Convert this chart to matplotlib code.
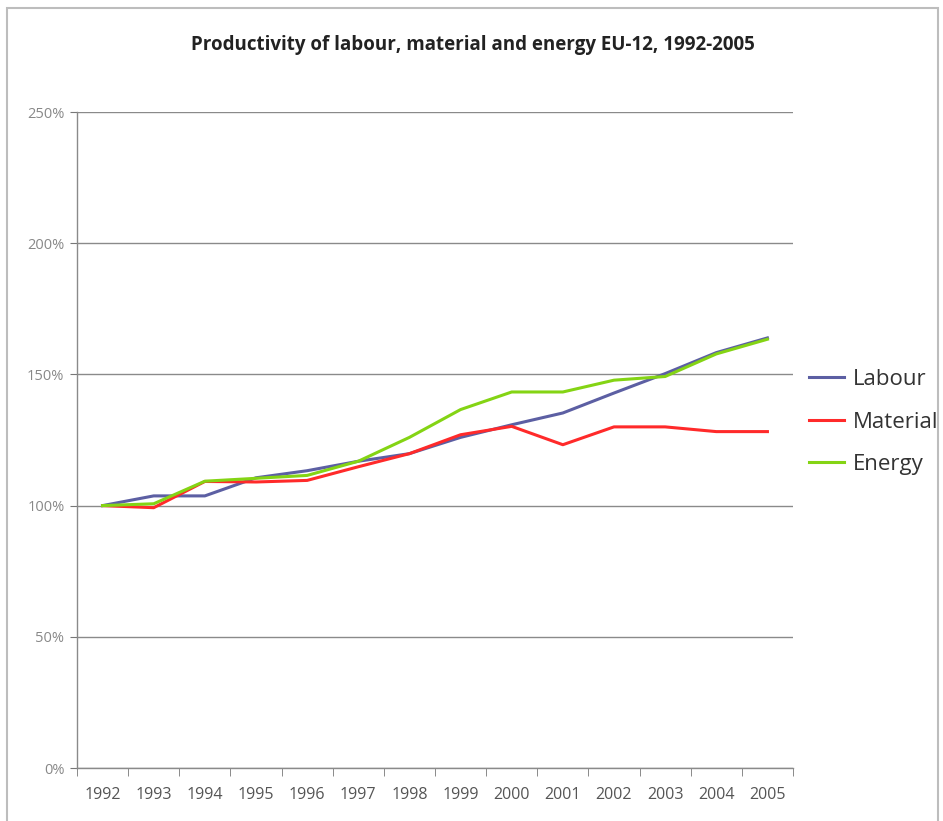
import matplotlib
matplotlib.use("Agg")
import matplotlib.pyplot as plt
from matplotlib.patches import Rectangle
from matplotlib.ticker import FuncFormatter

years = ["1992", "1993", "1994", "1995", "1996", "1997", "1998",
         "1999", "2000", "2001", "2002", "2003", "2004", "2005"]
labour = [100, 103.7, 103.7, 110.6, 113.3, 116.9, 119.8, 126.0, 130.8, 135.3, 142.9, 150.3, 158.3, 163.9]
material = [100, 99.2, 109.2, 109.0, 109.6, 114.8, 119.8, 127.0, 130.2, 123.2, 130.0, 130.0, 128.2, 128.2]
energy = [100, 100.7, 109.3, 110.4, 111.5, 116.9, 126.0, 136.6, 143.3, 143.3, 147.8, 149.2, 157.8, 163.4]
series_names = ["Labour", "Material", "Energy"]
y_ticks = [0, 50, 100, 150, 200, 250]

colors = ["#5c5fa3", "#ff2a2a", "#84d414"]

W, H = 943, 821
fig = plt.figure(figsize=(W / 100, H / 100), dpi=100)
fig.patch.set_facecolor("white")

# outer frame
fig.add_artist(Rectangle((7 / W, -0.05), (938 - 7) / W, 1.05 - 8 / H,
                         transform=fig.transFigure, fill=False,
                         edgecolor="#bdbdbd", linewidth=1.5))

ax = fig.add_axes([77 / W, (H - 768) / H, (793 - 77) / W, (768 - 112) / H])
x = list(range(len(years)))
for vals, name, c in zip([labour, material, energy], series_names, colors):
    ax.plot(x, vals, color=c, linewidth=2.2, label=name)

ax.set_xlim(-0.5, len(years) - 0.5)
ax.set_ylim(0, 250)
ax.set_yticks(y_ticks)
ax.yaxis.set_major_formatter(FuncFormatter(lambda v, p: f"{int(v)}%"))
ax.grid(axis="y", color="#8a8a8a", linewidth=1.0)
ax.set_axisbelow(True)

ax.set_xticks(x)
ax.set_xticklabels(years)
ax.set_xticks([i - 0.5 for i in range(len(years) + 1)], minor=True)
ax.tick_params(axis="x", which="major", length=0, pad=14, labelsize=11.5, labelcolor="#555555")
ax.tick_params(axis="x", which="minor", length=6, color="#777777", direction="out")
ax.tick_params(axis="y", length=5, color="#777777", labelsize=10.5, labelcolor="#888888", pad=4)

for s in ["top", "right"]:
    ax.spines[s].set_visible(False)
for s in ["left", "bottom"]:
    ax.spines[s].set_color("#8a8a8a")
    ax.spines[s].set_linewidth(1.0)

for lbl in ax.get_xticklabels() + ax.get_yticklabels():
    lbl.set_fontfamily("Open Sans")

fig.text(473 / W, 1 - 45 / H, "Productivity of labour, material and energy EU-12, 1992-2005",
         ha="center", va="center", fontsize=13.5, fontweight="bold",
         family="Open Sans", color="#222222")

leg = ax.legend(loc="center left", bbox_to_anchor=(800 / W, 1 - 422 / H),
                bbox_transform=fig.transFigure, frameon=False,
                prop={"family": "Open Sans", "size": 16},
                handlelength=1.6, handletextpad=0.4, labelspacing=0.98,
                borderaxespad=0)
for t in leg.get_texts():
    t.set_color("#333333")

fig.savefig("out.png", dpi=100)
